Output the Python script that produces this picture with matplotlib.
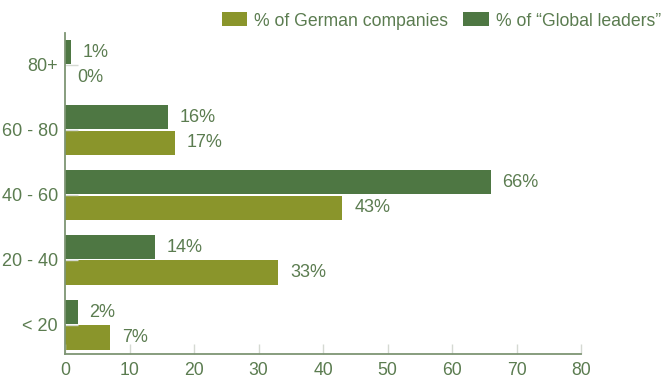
import numpy as np
import matplotlib
matplotlib.use("Agg")
import matplotlib.pyplot as plt

categories = ["80+", "60 - 80", "40 - 60", "20 - 40", "< 20"]
global_leaders = [1, 16, 66, 14, 2]
german = [0, 17, 43, 33, 7]

DARK = "#4e7743"
OLIVE = "#8a952b"
TXT = "#5b7c50"
SPINE = "#7e9574"

plt.rcParams["font.family"] = ["Liberation Sans", "DejaVu Sans"]

fig = plt.figure(figsize=(6.65, 3.81), dpi=100)
ax = fig.add_axes([65 / 665, 27 / 381, 516 / 665, 321 / 381])

y = np.arange(len(categories))[::-1]
h = 0.37
off = 0.196
ax.barh(y + off, global_leaders, height=h, color=DARK, label="% of \u201cGlobal leaders\u201d")
ax.barh(y - off, german, height=h, color=OLIVE, label="% of German companies")

for yi, v in zip(y, global_leaders):
    ax.text(v + 1.7, yi + off, f"{v}%", va="center", ha="left", color=TXT, fontsize=13)
for yi, v in zip(y, german):
    ax.text(v + 1.9, yi - off, f"{v}%", va="center", ha="left", color=TXT, fontsize=13)

ax.set_xlim(0, 80)
ax.set_ylim(-0.45, 4.49)
ax.set_xticks(range(0, 81, 10))
ax.set_yticks(y)
ax.set_yticklabels(categories)
ax.tick_params(axis="x", direction="in", length=7, width=1, color="#d5d9d2",
               labelcolor=TXT, labelsize=12.7, pad=5.5)
ax.tick_params(axis="y", direction="in", length=9, width=1, color="#d5d9d2",
               labelcolor=TXT, labelsize=13, pad=5)
for s in ["top", "right"]:
    ax.spines[s].set_visible(False)
for s in ["left", "bottom"]:
    ax.spines[s].set_color(SPINE)
    ax.spines[s].set_linewidth(1.3)

handles, labels = ax.get_legend_handles_labels()
fig.legend(handles[::-1], labels[::-1], loc="center right",
           bbox_to_anchor=(661 / 665, 1 - 21 / 381), ncol=2, frameon=False,
           fontsize=12.7, handlelength=1.45, handleheight=0.85, columnspacing=0.85,
           handletextpad=0.4, borderpad=0, borderaxespad=0, labelcolor=TXT)

fig.savefig("out.png", dpi=100)
